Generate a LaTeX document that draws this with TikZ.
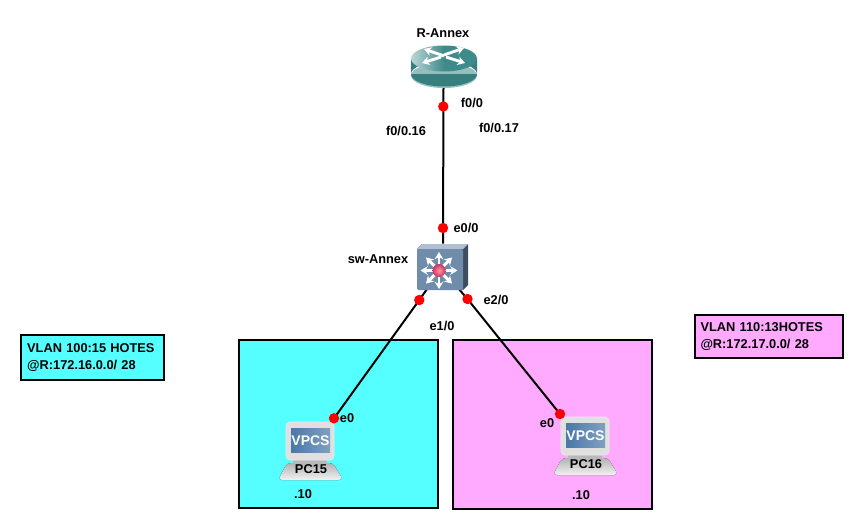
\documentclass[tikz,border=0pt]{standalone}
\usepackage{fontspec}
\setmainfont{Liberation Sans}
\usetikzlibrary{arrows.meta}
\definecolor{vlancyan}{HTML}{55FFFF}
\definecolor{vlanpink}{HTML}{FFAAFF}
\definecolor{routerteal}{HTML}{3F8A8A}
\definecolor{routerdark}{HTML}{377F7F}
\definecolor{swblue}{HTML}{6F8CAB}
\definecolor{screenblue}{HTML}{4A78A8}
\tikzset{
  lbl/.style={font=\fontsize{9.6}{11.5}\selectfont\bfseries,inner sep=0pt},
  vlanbox/.style={draw=black,line width=1.5pt,lbl,align=left,inner xsep=4.5pt,inner ysep=0pt},
  area/.style={draw=black,line width=1.5pt},
  link/.style={line width=1.5pt},
  port/.style={circle,fill=red,inner sep=0pt,minimum size=7.8pt},
  anchorbox/.style={inner sep=0pt},
  wharrow/.style={draw=white,line width=2.2pt,-{Stealth[length=5.5pt,width=6.5pt]}}
}
\newcommand{\pcicon}[2]{
  \begin{scope}[shift={(#1,#2)}]
    \fill[top color=black!30,bottom color=black!5,rounded corners=3pt] (1,41) -- (47,41) -- (57,58) -- (-8,58) -- cycle;
    \fill[black!28] (7,38) rectangle (41,42);
    \fill[black!12,draw=black!8,rounded corners=3pt] (0,0) rectangle (48,38);
    \fill[left color=screenblue,right color=screenblue!70!white] (5,6) rectangle (44,30);
    \node[font=\fontsize{10.5}{12}\selectfont\bfseries,text=white,inner sep=0pt] at (24.5,18.5) {VPCS};
  \end{scope}
}
\begin{document}
\begin{tikzpicture}[x=0.75pt,y=-0.75pt]
  \useasboundingbox (0,0) rectangle (864,529);
  \fill[white] (0,0) rectangle (864,529);
  \draw[area,fill=vlancyan] (238.5,339.5) rectangle (438,507.5);
  \draw[area,fill=vlanpink] (452.5,339.5) rectangle (652,508.5);
  \node[vlanbox,fill=vlancyan,text width=98pt,minimum height=33.5pt] (vlanA) at (92.5,357.5) {VLAN 100:15 HOTES\\[1.5pt]@R:172.16.0.0/ 28};
  \node[vlanbox,fill=vlanpink,text width=102pt,minimum height=32.5pt] (vlanB) at (768.5,336.5) {VLAN 110:13HOTES\\[1.5pt]@R:172.17.0.0/ 28};

  \node[anchorbox,minimum width=49.5pt,minimum height=31.5pt] (rAnnex) at (443.5,66) {};
  \node[anchorbox,minimum width=38pt,minimum height=34.5pt] (swAnnex) at (443,267) {};
  \coordinate (pRup) at (443.3,106.5); \coordinate (pSwup) at (443,228);
  \coordinate (pSwl) at (419.3,300); \coordinate (pSwr) at (467.5,299);
  \coordinate (pPca) at (334,418.3); \coordinate (pPcb) at (560,414);

  \draw[link] (rAnnex.south) -- (swAnnex.north);
  \draw[link] (427,289) -- (pSwl) -- (pPca);
  \draw[link] (458,288) -- (pSwr) -- (pPcb);

  % router
  \fill[routerteal!55!white] (444,75.5) ellipse (33 and 12.5);
  \fill[routerdark] (411,58.5) rectangle (477,74) (444,74) ellipse (33 and 12.5);
  \shade[left color=routerteal!35!white,right color=routerteal,middle color=routerteal] (444,58.5) ellipse (33 and 13);
  \draw[wharrow] (444,56) -- (424,49); \draw[wharrow] (444,55) -- (464,48);
  \draw[wharrow] (441,57) -- (422,63); \draw[wharrow] (446,57) -- (465,63);

  % switch
  \fill[black!45!swblue] (417,249) -- (422,244) -- (468,244) -- (468,285) -- (463,290) -- cycle;
  \fill[swblue!55!white] (417,249) -- (422,244) -- (468,244) -- (463,249) -- cycle;
  \fill[swblue,rounded corners=1pt] (417,249) rectangle (463,290);
  \foreach \ang in {0,45,...,315} {\draw[wharrow] (439,270.5) -- ++(\ang:18.5);}
  \shade[inner color=red!40!white,outer color=red!75!blue!80!white] (439,270.5) circle[radius=6.5];

  \pcicon{286}{422}
  \pcicon{561}{417}

  \foreach \p in {pRup,pSwup,pSwl,pSwr,pPca,pPcb} {\node[port] at (\p) {};}

  \node[lbl] (rName) at (443,33) {R-Annex};
  \node[lbl] (swName) at (378,259) {sw-Annex};
  \node[lbl] (lfa) at (472,103) {f0/0};
  \node[lbl] (lfb) at (406,131) {f0/0.16};
  \node[lbl] (lfc) at (499,128) {f0/0.17};
  \node[lbl] (lea) at (466,228) {e0/0};
  \node[lbl] (leb) at (442,326) {e1/0};
  \node[lbl] (lec) at (496,300) {e2/0};
  \node[lbl] (ledA) at (347,418) {e0};
  \node[lbl] (ledB) at (547,423) {e0};
  \node[lbl] (pcA) at (311,469) {PC15};
  \node[lbl] (pcB) at (586,464) {PC16};
  \node[lbl] (ipA) at (303,494) {.10};
  \node[lbl] (ipB) at (581,495) {.10};
\end{tikzpicture}
\end{document}
